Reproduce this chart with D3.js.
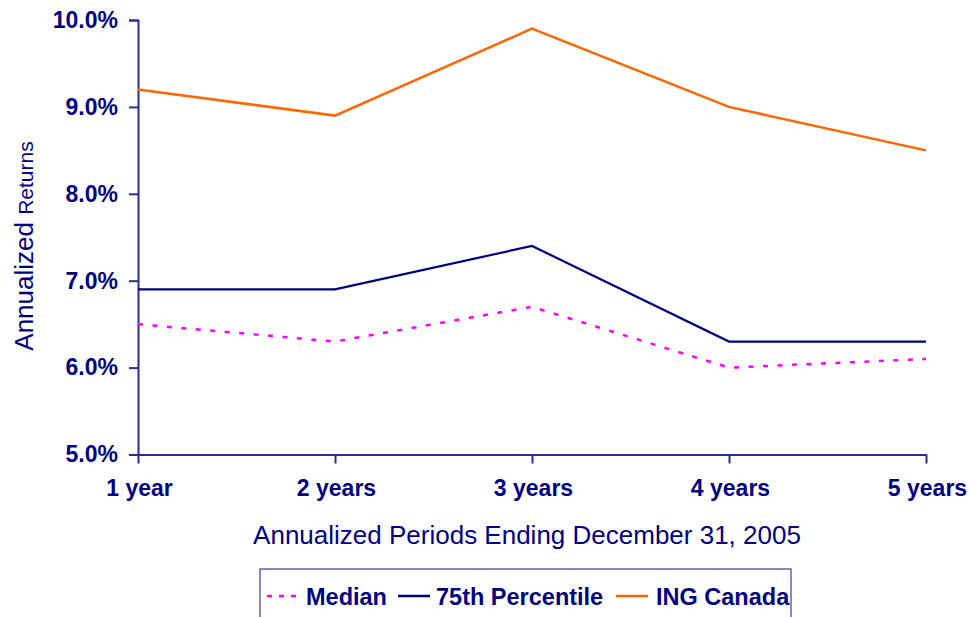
<!DOCTYPE html>
<html><head><meta charset="utf-8">
<script src="https://cdn.jsdelivr.net/npm/d3@7"></script>
<style>body{margin:0;background:#fff}svg{display:block}</style>
</head><body>
<svg id="c" width="969" height="617"></svg>
<script>
const categories = ["1 year","2 years","3 years","4 years","5 years"];
const median = [6.5, 6.3, 6.7, 6.0, 6.1];
const pct75 = [6.9, 6.9, 7.4, 6.3, 6.3];
const ingCanada = [9.2, 8.9, 9.9, 9.0, 8.5];
const yTicks = [5, 6, 7, 8, 9, 10];
const seriesNames = ["Median","75th Percentile","ING Canada"];

const svg = d3.select("#c");
const navy = "#000080", axisCol = "#2b2b96";
const font = "Liberation Sans, Arial, sans-serif";
const x = d3.scalePoint().domain(categories).range([138, 926]).padding(0);
const y = d3.scaleLinear().domain([5, 10]).range([454.5, 20]);

// y axis
const ya = svg.append("g").attr("transform","translate(138,0)")
  .call(d3.axisLeft(y).tickValues(yTicks).tickSize(9).tickPadding(11).tickFormat(d=>d3.format(".1f")(d)+"%"));
ya.select(".domain").attr("stroke",axisCol).attr("stroke-width",2);
ya.selectAll(".tick line").attr("stroke",axisCol).attr("stroke-width",2);
ya.selectAll(".tick text").attr("fill",navy).attr("font-family",font)
  .attr("font-weight","bold").attr("font-size",23);

// x axis
const xa = svg.append("g").attr("transform","translate(0,454.5)")
  .call(d3.axisBottom(x).tickSize(9).tickSizeOuter(0).tickPadding(16));
xa.select(".domain").attr("stroke",axisCol).attr("stroke-width",2);
xa.selectAll(".tick line").attr("stroke",axisCol).attr("stroke-width",2);
xa.selectAll(".tick text").attr("fill",navy).attr("font-family",font)
  .attr("font-weight","bold").attr("font-size",23).attr("dx",1);

// lines
const line = d3.line().x((d,i)=>x(categories[i])).y(d=>y(d));
svg.append("path").datum(ingCanada).attr("d",line).attr("fill","none").attr("stroke","#ff6600").attr("stroke-width",2.5);
svg.append("path").datum(pct75).attr("d",line).attr("fill","none").attr("stroke",navy).attr("stroke-width",2.2);
svg.append("path").datum(median).attr("d",line).attr("fill","none").attr("stroke","#ff00ff").attr("stroke-width",2.5).attr("stroke-dasharray","5,9.5");

// axis titles
const yt = svg.append("text").attr("transform","translate(33,246) rotate(-90)").attr("text-anchor","middle")
  .attr("fill",navy).attr("font-family",font);
yt.append("tspan").attr("font-size",26).text("Annualized ");
yt.append("tspan").attr("font-size",21).text("Returns");

svg.append("text").attr("x",527).attr("y",544).attr("text-anchor","middle").attr("fill",navy)
  .attr("font-family",font).attr("font-size",26)
  .text("Annualized Periods Ending December 31, 2005");

// legend
svg.append("rect").attr("x",260).attr("y",569).attr("width",531).attr("height",60)
  .attr("fill","#fff").attr("stroke","#3a3aa0").attr("stroke-width",1.2);
const legend = [
  {name:seriesNames[0], color:"#ff00ff", dash:"5,7", x1:267, tx:306},
  {name:seriesNames[1], color:navy, dash:null, x1:398, tx:436},
  {name:seriesNames[2], color:"#ff6600", dash:null, x1:616, tx:656}
];
const lg = svg.append("g").selectAll("g").data(legend).join("g");
lg.append("line").attr("x1",d=>d.x1).attr("x2",d=>d.x1+32).attr("y1",596).attr("y2",596)
  .attr("stroke",d=>d.color).attr("stroke-width",2.5).attr("stroke-dasharray",d=>d.dash);
lg.append("text").attr("x",d=>d.tx).attr("y",605).attr("fill",navy)
  .attr("font-family",font).attr("font-weight","bold").attr("font-size",23.5)
  .text(d=>d.name);
</script>
</body></html>
